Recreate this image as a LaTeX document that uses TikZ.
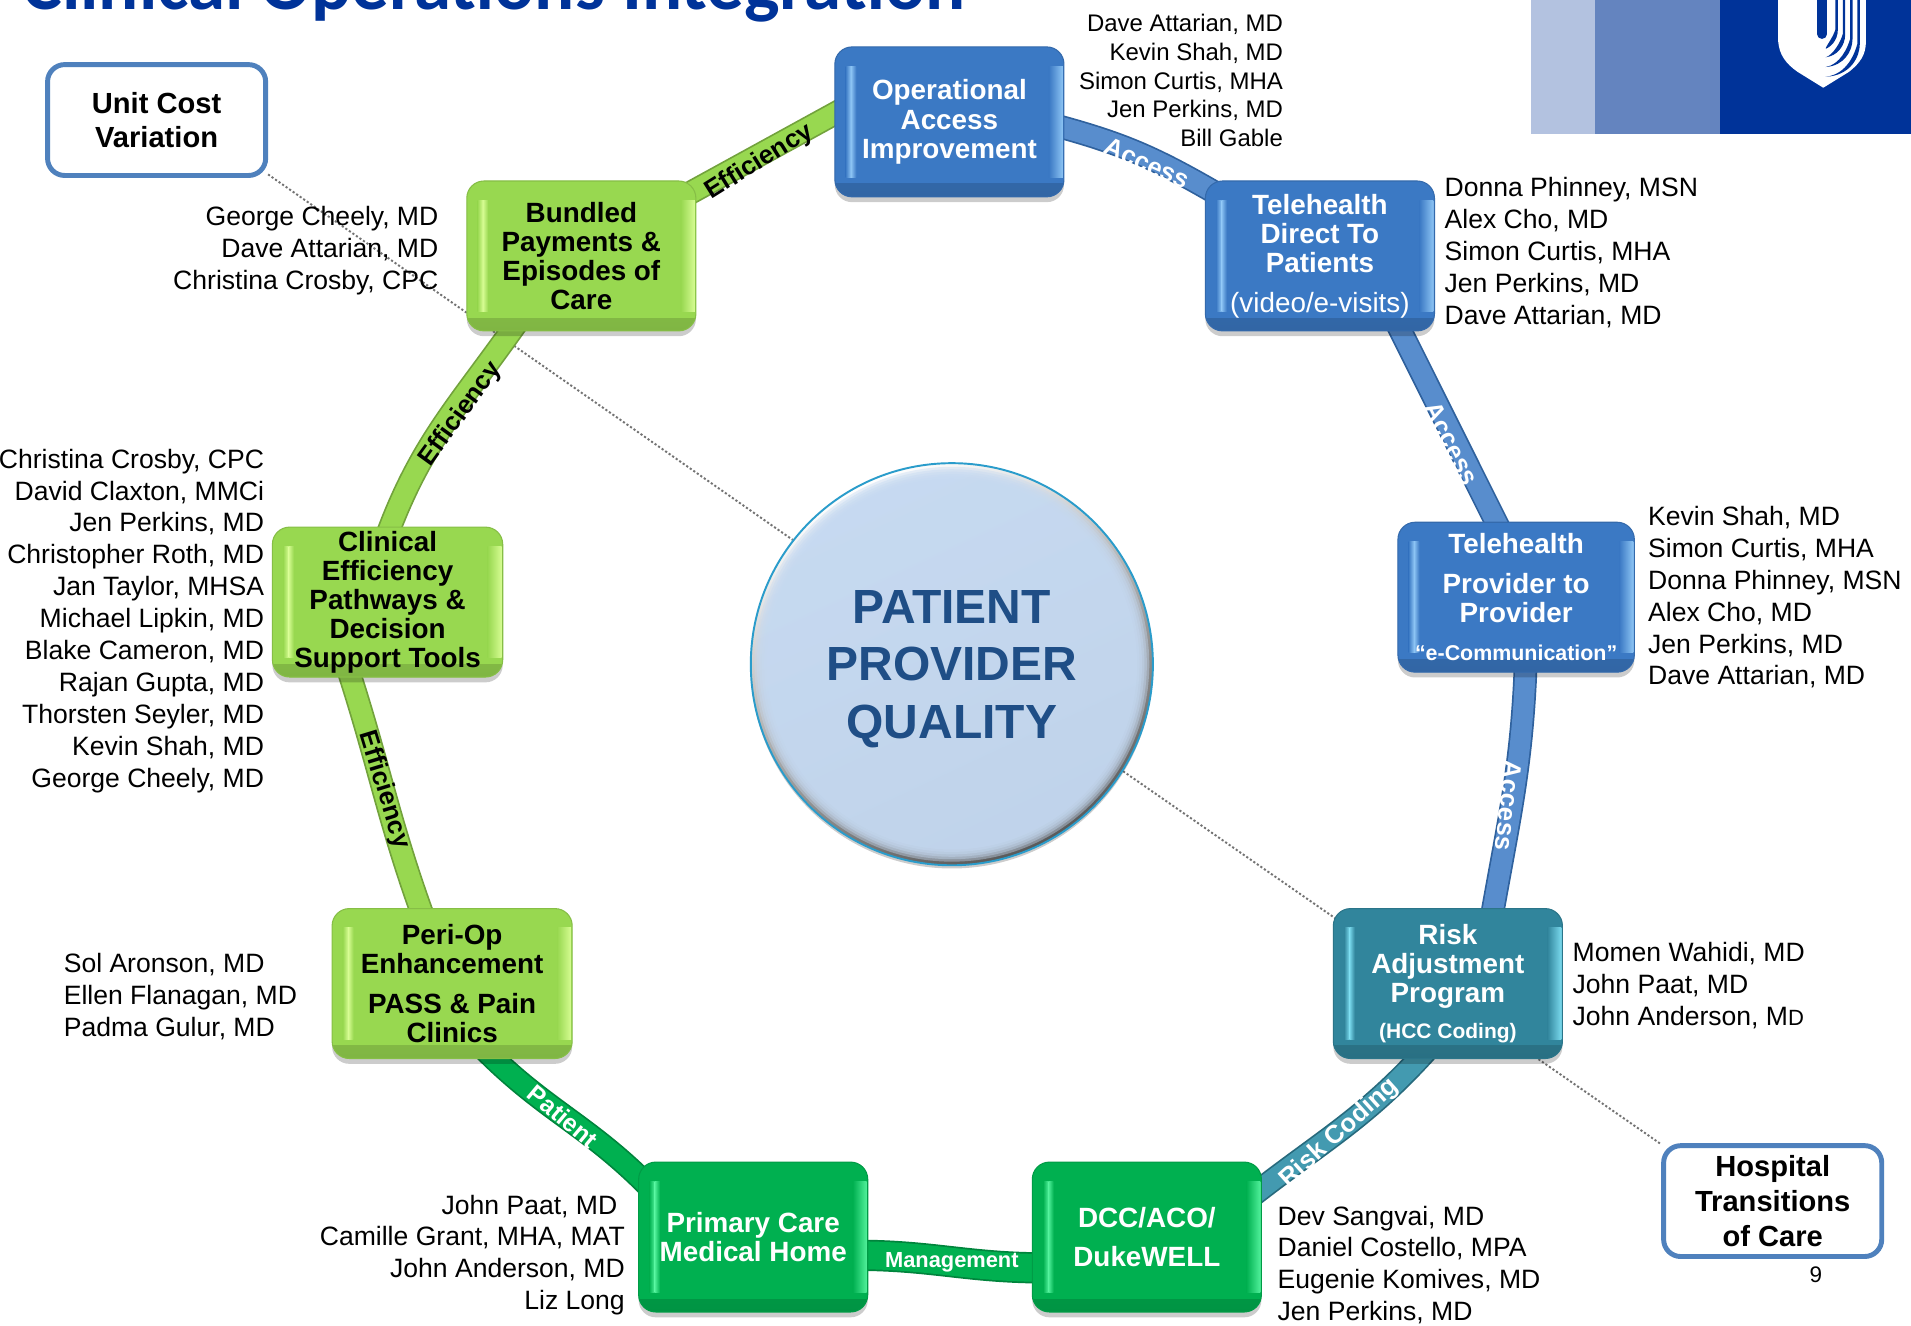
\documentclass[tikz,border=0pt]{standalone}
\usepackage{fontspec}
\setmainfont{Liberation Sans}
\newfontfamily\titlefont{Carlito}
\usetikzlibrary{backgrounds,shadows}

\definecolor{dukeblue}{HTML}{003399}
\definecolor{dukemid}{HTML}{6484BF}
\definecolor{dukepale}{HTML}{B3C2E0}
\definecolor{bluebase}{HTML}{3B79C4}
\definecolor{bluerim}{HTML}{8CC4F4}
\definecolor{limebase}{HTML}{98D850}
\definecolor{limerim}{HTML}{D6FC92}
\definecolor{tealbase}{HTML}{31859C}
\definecolor{tealrim}{HTML}{7ADAEE}
\definecolor{greenbase}{HTML}{00B050}
\definecolor{greenrim}{HTML}{50F09A}
\definecolor{discfill}{HTML}{C5D9F1}
\definecolor{disctext}{HTML}{1F4E86}
\definecolor{discedge}{HTML}{2A9CCB}
\definecolor{outline}{HTML}{4F81BD}

\tikzset{
	boxnode/.style n args={2}{rounded corners=8pt, minimum width=3.76cm, minimum height=2.46cm, inner sep=0pt, align=center,
		font=\bfseries\fontsize{13}{13.6}\selectfont, fill=#1, draw=#1!88!black, line width=.5pt,
		drop shadow={shadow xshift=0pt, shadow yshift=-2.5pt, opacity=.2, fill=black},
		path picture={
			\shade[sharp corners, top color=#1, bottom color=#1!84!black] ([yshift=6pt]path picture bounding box.south west) rectangle (path picture bounding box.south east);
			\shade[sharp corners, left color=#1, right color=#2] ([xshift=5pt,yshift=9pt]path picture bounding box.south west) rectangle ([xshift=7.5pt,yshift=-9pt]path picture bounding box.north west);
			\shade[sharp corners, left color=#2, right color=#1] ([xshift=7.5pt,yshift=9pt]path picture bounding box.south west) rectangle ([xshift=10pt,yshift=-9pt]path picture bounding box.north west);
			\shade[sharp corners, left color=#1, right color=#2] ([xshift=-7pt,yshift=9pt]path picture bounding box.south east) rectangle ([xshift=-.5pt,yshift=-9pt]path picture bounding box.north east);
		}},
	bluebox/.style={boxnode={bluebase}{bluerim}, text=white},
	limebox/.style={boxnode={limebase}{limerim}, text=black},
	tealbox/.style={boxnode={tealbase}{tealrim}, text=white},
	greenbox/.style={boxnode={greenbase}{greenrim}, text=white},
	topicbox/.style={draw=outline, line width=2.3pt, fill=white, rounded corners=8pt, inner sep=0pt, align=center,
		minimum width=3.58cm, minimum height=1.82cm, font=\bfseries\fontsize{13.6}{16.2}\selectfont},
	names/.style={inner sep=0pt, font=\fontsize{12.4}{14.9}\selectfont},
	leftnames/.style={names, align=right, anchor=north east},
	rightnames/.style={names, align=left, anchor=north west},
	link/.style={line width=.8pt, double distance=9.5pt, shorten >=-6pt, shorten <=-6pt},
	bluelink/.style={link, draw=bluebase!80!black, double=bluebase!85!white},
	limelink/.style={link, draw=limebase!75!black, double=limebase},
	teallink/.style={link, draw=tealbase!80!black, double=tealbase!75!tealrim},
	greenlink/.style={link, draw=greenbase!75!black, double=greenbase},
	linklabel/.style={inner sep=0pt, font=\bfseries\fontsize{12}{12}\selectfont},
	helper/.style={draw=black!55, line width=.9pt, dash pattern=on 1pt off 1pt}
}

\begin{document}
\begin{tikzpicture}[x=0.02cm, y=0.02cm]
	\clip (0,0) rectangle (1568,-1088);

	\fill[dukepale] (1256,0) rectangle (1309,-110);
	\fill[dukemid] (1309,0) rectangle (1411,-110);
	\fill[dukeblue] (1411,0) rectangle (1568,-110);
	\fill[white] (1459,0) -- (1459,-34) .. controls (1460,-45) and (1465,-52) .. (1475,-59) -- (1496,-72) -- (1517,-59) .. controls (1526,-52) and (1531,-45) .. (1531,-34) -- (1531,0) -- cycle;
	\draw[dukeblue, line width=4.5pt, line cap=round] (1495,2) -- (1495,-28);
	\foreach \sx/\sy/\ty in {1507/24/40, 1513/28/47, 1519/32/55, 1525/36/63}
		\fill[dukeblue] (\sx-1,0) -- (\sx-1,-\sy) .. controls (\sx-3,-\sy-7) and (\sx-9,-\ty+2) .. (1498,-\ty) .. controls (\sx-6,-\ty+1) and (\sx+1,-\sy-10) .. (\sx+1,-\sy) -- (\sx+1,0) -- cycle;

	\node[anchor=base west, inner sep=0pt, text=dukeblue, font=\titlefont\bfseries\fontsize{35}{35}\selectfont] (title) at (18,-8) {Clinical Operations Integration};

	\node[bluebox] (ops) at (779,-100) {Operational\\Access\\Improvement};
	\node[bluebox] (direct) at (1083,-210) {Telehealth\\Direct To\\Patients\\[5pt]{\mdseries (video/e-visits)}};
	\node[bluebox, minimum width=3.88cm] (provider) at (1244,-490) {Telehealth\\[5pt]Provider to\\Provider\\[4pt]{\fontsize{10}{10}\selectfont “e-Communication”}};
	\node[tealbox] (risk) at (1188,-807) {Risk\\Adjustment\\Program\\[3pt]{\fontsize{9.8}{10}\selectfont (HCC Coding)}};
	\node[greenbox] (dcc) at (941,-1015) {DCC/ACO/\\[5pt]DukeWELL};
	\node[greenbox] (primary) at (618,-1015) {Primary Care\\Medical Home};
	\node[limebox, minimum width=3.94cm] (periop) at (371,-807) {Peri-Op\\Enhancement\\[5pt]PASS \& Pain\\Clinics};
	\node[limebox, minimum width=3.78cm] (clinical) at (318,-494) {Clinical\\Efficiency\\Pathways \&\\Decision\\Support Tools};
	\node[limebox] (bundled) at (477,-210) {Bundled\\Payments \&\\Episodes of\\Care};

	\node[circle, minimum size=6.6cm, inner sep=0pt, draw=discedge, line width=.9pt, top color=white, bottom color=black!65, shading angle=25,
		drop shadow={shadow xshift=0pt, shadow yshift=-1.5pt, opacity=.2, fill=black}] (patient) at (781,-545) {};
	\foreach \r in {162,160,158,156,154,152}
		\fill[discfill, opacity=.42] (patient) circle [radius=\r];
	\node[inner sep=0pt, align=center, text=disctext, font=\bfseries\fontsize{22.4}{27}\selectfont] (patienttext) at (781,-549) {PATIENT\\PROVIDER\\QUALITY};

	\node[topicbox] (unitcost) at (128.5,-98.5) {Unit Cost\\Variation};
	\node[topicbox] (hospital) at (1454.5,-985.5) {Hospital\\Transitions\\of Care};

	\begin{scope}[on background layer]
		\fill[white] (0,0) rectangle (1568,-1088);
		\draw[helper] (unitcost.-26) -- (patient.142);
		\draw[helper] (patient.-32) -- (hospital.153);
		\draw[limelink] (bundled.30) -- (ops.176);
		\draw[bluelink] (ops.-3) to[out=-15, in=150] (direct.149);
		\draw[bluelink] (direct.-43) -- (provider.105);
		\draw[bluelink] (provider.-83) to[out=-92, in=80] (risk.59);
		\draw[teallink] (risk.249) to[out=-132, in=38] (dcc.23);
		\draw[greenlink, double distance=13pt] (dcc.195) to[out=180, in=0] (primary.-9);
		\draw[greenlink] (primary.152) to[out=135, in=-45] (periop.-61);
		\draw[limelink] (periop.113) to[out=110, in=-72] (clinical.244);
		\draw[limelink] (clinical.88) to[out=70, in=-125] (bundled.227);
	\end{scope}

	\node[linklabel, rotate=32] (efftop) at (623,-133) {Efficiency};
	\node[linklabel, rotate=54] (effmid) at (378,-340) {Efficiency};
	\node[linklabel, rotate=-73] (efflow) at (315,-648) {Efficiency};
	\node[linklabel, text=white, rotate=-24] (accessa) at (941,-134) {Access};
	\node[linklabel, text=white, rotate=-63] (accessb) at (1191,-364) {Access};
	\node[linklabel, text=white, rotate=-96] (accessc) at (1238,-661) {Access};
	\node[linklabel, text=white, rotate=42] (coding) at (1099,-930) {Risk Coding};
	\node[linklabel, text=white, font=\bfseries\fontsize{10.2}{10.2}\selectfont] (mgmt) at (781,-1036) {Management};
	\node[linklabel, text=white, font=\bfseries\fontsize{11.5}{11.5}\selectfont, rotate=-40] (patientlabel) at (462,-916) {Patient};

	\node[leftnames, font=\fontsize{11.2}{13.5}\selectfont] (opsnames) at (1053,-11) {Dave Attarian, MD\\Kevin Shah, MD\\Simon Curtis, MHA\\Jen Perkins, MD\\Bill Gable};
	\node[rightnames] (directnames) at (1185,-145) {Donna Phinney, MSN\\Alex Cho, MD\\Simon Curtis, MHA\\Jen Perkins, MD\\Dave Attarian, MD};
	\node[rightnames] (providernames) at (1352,-415) {Kevin Shah, MD\\Simon Curtis, MHA\\Donna Phinney, MSN\\Alex Cho, MD\\Jen Perkins, MD\\Dave Attarian, MD};
	\node[rightnames] (risknames) at (1290,-773) {Momen Wahidi, MD\\John Paat, MD\\John Anderson, M{\fontsize{10.3}{10}\selectfont D}};
	\node[rightnames] (dccnames) at (1048,-989) {Dev Sangvai, MD\\Daniel Costello, MPA\\Eugenie Komives, MD\\Jen Perkins, MD};
	\node[leftnames] (primarynames) at (513,-980) {John Paat, MD\kern3.5pt\\Camille Grant, MHA, MAT\\John Anderson, MD\\Liz Long};
	\node[rightnames] (periopnames) at (52,-782) {Sol Aronson, MD\\Ellen Flanagan, MD\\Padma Gulur, MD};
	\node[leftnames] (clinicalnames) at (217,-368) {Christina Crosby, CPC\\David Claxton, MMCi\\Jen Perkins, MD\\Christopher Roth, MD\\Jan Taylor, MHSA\\Michael Lipkin, MD\\Blake Cameron, MD\\Rajan Gupta, MD\\Thorsten Seyler, MD\\Kevin Shah, MD\\George Cheely, MD};
	\node[leftnames] (bundlednames) at (360,-169) {George Cheely, MD\\Dave Attarian, MD\\Christina Crosby, CPC};

	\node[inner sep=0pt, font=\fontsize{10.5}{12}\selectfont] (pagenum) at (1490,-1046) {9};
\end{tikzpicture}
\end{document}
